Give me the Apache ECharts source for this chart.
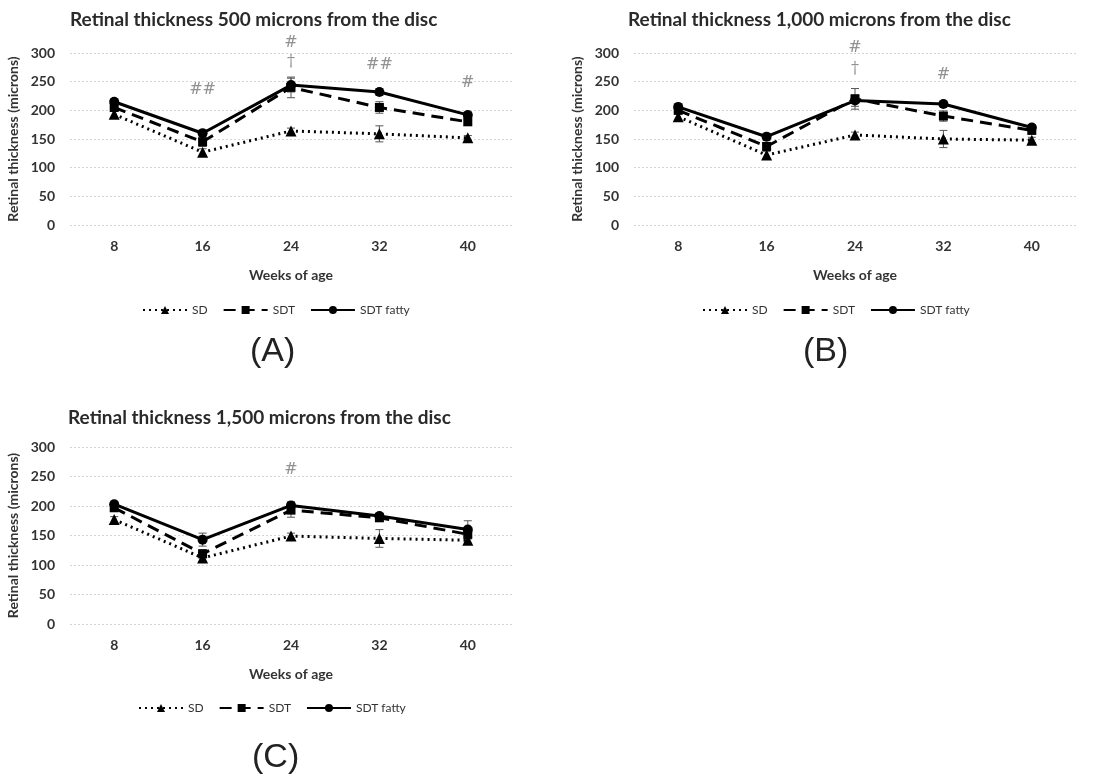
<!DOCTYPE html>
<html>
<head>
<meta charset="utf-8">
<script src="https://cdn.jsdelivr.net/npm/echarts@6/dist/echarts.min.js"></script>
<style>
  html, body { margin: 0; padding: 0; background: #fff; }
  #chart { width: 1100px; height: 783px; }
</style>
</head>
<body>
<div id="chart"></div>
<script>
const weeks = ['8', '16', '24', '32', '40']
const seriesNames = ['SD', 'SDT', 'SDT fatty']
const titles = [
  'Retinal thickness 500 microns from the disc',
  'Retinal thickness 1,000 microns from the disc',
  'Retinal thickness 1,500 microns from the disc'
]
const panelLabels = ['(A)', '(B)', '(C)']

// (A) 500 microns
const sdA = [193, 127, 164, 159, 152]
const sdtA = [205, 145, 240, 205, 180]
const fattyA = [215, 160, 244, 232, 192]
const sdErrA = [5, 6, 5, 14, 4]
const sdtErrA = [6, 8, 18, 10, 6]
const fattyErrA = [5, 6, 12, 6, 5]
const marksA = [['16', 235, '##'], ['24', 318, '#'], ['24', 285, '†'], ['32', 279, '##'], ['40', 248, '#']]

// (B) 1,000 microns
const sdB = [189, 122, 157, 150, 148]
const sdtB = [200, 137, 220, 190, 165]
const fattyB = [206, 154, 217, 211, 170]
const sdErrB = [5, 6, 5, 15, 5]
const sdtErrB = [6, 7, 18, 9, 6]
const fattyErrB = [5, 6, 10, 5, 5]
const marksB = [['24', 309, '#'], ['24', 272, '†'], ['32', 262, '#']]

// (C) 1,500 microns
const sdC = [177, 112, 149, 145, 142]
const sdtC = [197, 119, 193, 180, 152]
const fattyC = [203, 143, 201, 183, 160]
const sdErrC = [5, 6, 5, 15, 5]
const sdtErrC = [6, 7, 12, 6, 8]
const fattyErrC = [5, 11, 6, 5, 15]
const marksC = [['24', 262, '#']]

const panels = [
  { sd: sdA, sdt: sdtA, fatty: fattyA, err: [sdErrA, sdtErrA, fattyErrA], marks: marksA },
  { sd: sdB, sdt: sdtB, fatty: fattyB, err: [sdErrB, sdtErrB, fattyErrB], marks: marksB },
  { sd: sdC, sdt: sdtC, fatty: fattyC, err: [sdErrC, sdtErrC, fattyErrC], marks: marksC }
]

const grids = [
  { left: 70, top: 53, width: 442, height: 172 },
  { left: 634, top: 53, width: 442, height: 172 },
  { left: 70, top: 447, width: 442, height: 177 }
]
const titlePos = [{ left: 70, top: 10 }, { left: 628, top: 10 }, { left: 68, top: 408 }]
const legendPos = [{ left: 142, top: 304 }, { left: 702, top: 304 }, { left: 138, top: 702 }]
const labelPos = [{ left: 250, top: 335 }, { left: 803, top: 335 }, { left: 252, top: 741 }]

const font = 'Lato, "Open Sans", sans-serif'

const lineStyles = [
  { type: [2, 4], width: 3, symbol: 'triangle', size: 11 },
  { type: [12, 7], width: 3, symbol: 'rect', size: 9 },
  { type: 'solid', width: 3, symbol: 'circle', size: 10 }
]

const myEcharts = echarts.init(document.getElementById('chart'))

const option = {
  backgroundColor: '#fff',
  animation: false,
  title: [],
  legend: [],
  grid: [],
  xAxis: [],
  yAxis: [],
  series: []
}

panels.forEach((p, i) => {
  option.title.push({
    text: titles[i],
    left: titlePos[i].left,
    top: titlePos[i].top,
    padding: 0,
    textStyle: { fontFamily: font, fontSize: 19, fontWeight: 'bold', color: '#2a2a2a' }
  })
  option.title.push({
    text: panelLabels[i],
    left: labelPos[i].left,
    top: labelPos[i].top,
    padding: 0,
    textStyle: { fontFamily: '"Liberation Sans", Arial, sans-serif', fontSize: 34, fontWeight: 'normal', color: '#222' }
  })
  option.legend.push({
    data: seriesNames,
    left: legendPos[i].left,
    top: legendPos[i].top,
    padding: 0,
    itemWidth: 44,
    itemHeight: 10,
    itemGap: 15,
    textStyle: { fontFamily: font, fontSize: 12, color: '#333' }
  })
  option.grid.push(Object.assign({ containLabel: false }, grids[i]))
  option.xAxis.push({
    type: 'category',
    gridIndex: i,
    data: weeks,
    name: 'Weeks of age',
    nameLocation: 'middle',
    nameGap: 43,
    nameTextStyle: { fontFamily: font, fontSize: 14, fontWeight: 'bold', color: '#333' },
    axisLine: { show: false },
    axisTick: { show: false },
    axisLabel: { margin: 14, fontFamily: font, fontSize: 14, fontWeight: 'bold', color: '#333' }
  })
  option.yAxis.push({
    type: 'value',
    gridIndex: i,
    min: 0,
    max: 300,
    interval: 50,
    name: 'Retinal thickness (microns)',
    nameLocation: 'middle',
    nameGap: 50,
    nameTextStyle: { fontFamily: font, fontSize: 14, fontWeight: 'bold', color: '#333' },
    axisLine: { show: false },
    axisTick: { show: false },
    axisLabel: { margin: 15, fontFamily: font, fontSize: 14, fontWeight: 'bold', color: '#333' },
    splitLine: { lineStyle: { color: '#d4d4d4', type: [2, 2], width: 1 } }
  })

  const values = [p.sd, p.sdt, p.fatty]
  values.forEach((vals, k) => {
    const st = lineStyles[k]
    option.series.push({
      name: seriesNames[k],
      type: 'line',
      xAxisIndex: i,
      yAxisIndex: i,
      data: vals,
      symbol: st.symbol,
      symbolSize: st.size,
      z: 3 + k,
      itemStyle: { color: '#000' },
      lineStyle: { color: '#000', width: st.width, type: st.type }
    })
    // error bars
    option.series.push({
      type: 'custom',
      xAxisIndex: i,
      yAxisIndex: i,
      z: 2,
      silent: true,
      data: vals.map((v, j) => [j, v, p.err[k][j]]),
      renderItem: (params, api) => {
        const top = api.coord([api.value(0), api.value(1) + api.value(2)])
        const bot = api.coord([api.value(0), api.value(1) - api.value(2)])
        const style = { stroke: '#555', lineWidth: 1 }
        return {
          type: 'group',
          children: [
            { type: 'line', shape: { x1: top[0], y1: top[1], x2: bot[0], y2: bot[1] }, style },
            { type: 'line', shape: { x1: top[0] - 4, y1: top[1], x2: top[0] + 4, y2: top[1] }, style },
            { type: 'line', shape: { x1: bot[0] - 4, y1: bot[1], x2: bot[0] + 4, y2: bot[1] }, style }
          ]
        }
      }
    })
  })

  // significance marks (some sit above the 300 line)
  option.series.push({
    type: 'scatter',
    xAxisIndex: i,
    yAxisIndex: i,
    silent: true,
    clip: false,
    symbolSize: 1,
    itemStyle: { color: 'transparent' },
    data: p.marks,
    label: {
      show: true,
      position: 'inside',
      formatter: (d) => d.value[2],
      fontFamily: '"DejaVu Serif", serif',
      fontSize: 16,
      color: '#777'
    }
  })
})

myEcharts.setOption(option)
</script>
</body>
</html>
